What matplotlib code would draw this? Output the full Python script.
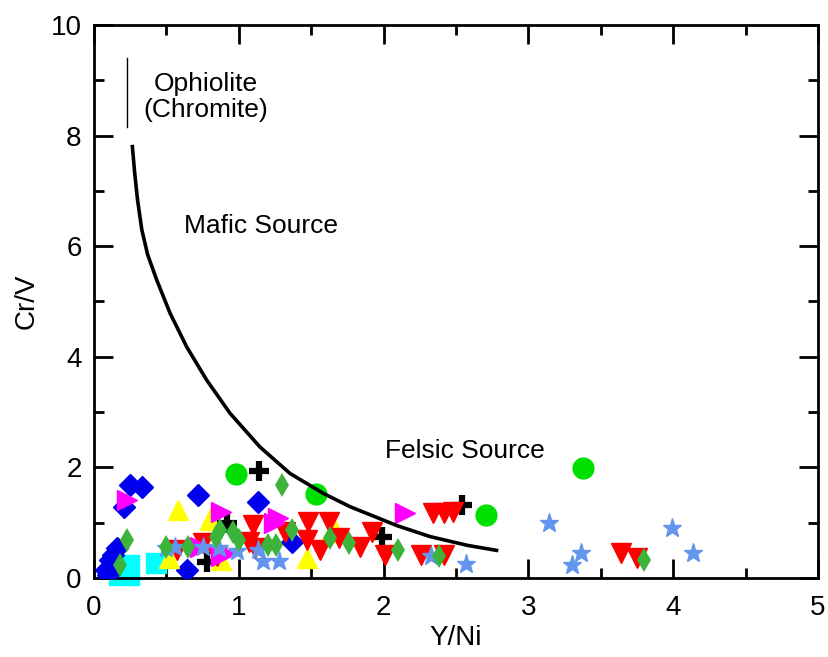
import numpy as np
import matplotlib.pyplot as plt
from matplotlib.ticker import MultipleLocator

plt.rcParams['font.family'] = ['Liberation Sans', 'DejaVu Sans']

# boundary curve
curveX = [0.265, 0.28, 0.30, 0.33, 0.37, 0.433, 0.525, 0.64, 0.778, 0.939, 1.146,
          1.354, 1.584, 1.768, 1.93, 2.09, 2.32, 2.58, 2.78]
curveY = [7.80, 7.35, 6.85, 6.30, 5.85, 5.39, 4.79, 4.18, 3.58, 2.98, 2.37,
          1.89, 1.53, 1.29, 1.12, 0.95, 0.75, 0.59, 0.50]

# ophiolite (chromite) bar
ophX = [0.228, 0.228]
ophY = [8.16, 9.40]

# sample groups
cyanX = [0.21, 0.43]
cyanY = [0.14, 0.27]
cyanSize = [21, 14.5]

blueX = [0.25, 0.33, 0.21, 0.72, 0.64, 0.157, 0.11, 0.08, 0.10, 0.13, 1.13, 1.37]
blueY = [1.68, 1.65, 1.29, 1.50, 0.14, 0.54, 0.33, 0.14, 0.05, 0.42, 1.38, 0.66]

yellowX = [0.58, 0.80, 0.52, 1.47, 0.81, 1.64, 0.88, 1.66]
yellowY = [1.23, 1.05, 0.36, 0.36, 1.11, 0.84, 0.33, 0.90]

plusX = [1.14, 0.78, 0.92, 1.99, 2.54]
plusY = [1.93, 0.29, 1.00, 0.74, 1.32]

redX = [1.10, 1.48, 1.62, 1.47, 1.56, 1.69, 1.32, 1.07, 1.11, 0.85, 0.75, 0.57,
        1.84, 1.92, 2.01, 2.26, 2.42, 2.34, 2.42, 2.48, 3.64, 3.75]
redY = [0.96, 1.02, 1.02, 0.69, 0.51, 0.72, 0.84, 0.66, 0.54, 0.39, 0.63, 0.51,
        0.57, 0.84, 0.42, 0.42, 0.42, 1.17, 1.17, 1.20, 0.45, 0.36]

magentaX = [0.23, 0.88, 1.27, 1.24, 2.15, 0.88, 0.73, 0.90]
magentaY = [1.41, 1.20, 1.08, 1.00, 1.18, 0.39, 0.57, 0.45]

starX = [0.50, 0.56, 0.75, 0.86, 0.99, 1.13, 1.17, 1.28, 2.33, 2.57, 3.14, 3.36, 3.30, 3.99, 4.14]
starY = [0.54, 0.57, 0.57, 0.54, 0.48, 0.51, 0.30, 0.30, 0.39, 0.26, 0.99, 0.45, 0.24, 0.90, 0.45]

greenX = [1.30, 0.23, 0.18, 0.50, 0.65, 0.84, 0.87, 0.96, 1.00, 1.37, 1.20, 1.26,
          1.63, 1.76, 2.10, 2.38, 3.80]
greenY = [1.68, 0.69, 0.24, 0.57, 0.57, 0.75, 0.87, 0.84, 0.69, 0.87, 0.60, 0.60,
          0.72, 0.63, 0.51, 0.39, 0.33]

circleX = [0.98, 1.53, 2.71, 3.38]
circleY = [1.88, 1.52, 1.14, 1.99]

fig = plt.figure(figsize=(8.29, 6.57), dpi=100)
ax = fig.add_axes([0.1134, 0.1202, 0.8733, 0.8418])

for x, y, s in zip(cyanX, cyanY, cyanSize):
    ax.plot(x, y, 's', color='#00ffff', markersize=s, clip_on=False, zorder=2)
ax.plot(blueX, blueY, 'D', color='#0000ee', markersize=11, linestyle='none', zorder=3)
ax.plot(yellowX, yellowY, '^', color='#ffff00', markersize=14, linestyle='none', zorder=3)
ax.plot(plusX, plusY, '+', color='black', markersize=14, markeredgewidth=4.5,
        linestyle='none', zorder=3)
ax.plot(redX, redY, 'v', color='#ff0000', markersize=14, linestyle='none', zorder=4)
ax.plot(magentaX, magentaY, '>', color='#ff00ff', markersize=14, linestyle='none', zorder=4)
ax.plot(starX, starY, '*', color='#6495ed', markersize=14, linestyle='none', zorder=5)
ax.plot(greenX, greenY, 'd', color='#3cb43c', markersize=12.5, markeredgewidth=0,
        linestyle='none', zorder=6)
ax.plot(circleX, circleY, 'o', color='#00e000', markersize=15, linestyle='none', zorder=6)

ax.plot(curveX, curveY, color='black', linewidth=2.6, zorder=7)
ax.plot(ophX, ophY, color='black', linewidth=1.0, zorder=7)

ax.text(0.773, 8.70, 'Ophiolite\n(Chromite)', ha='center', va='center', fontsize=19,
        linespacing=1.1)
ax.text(1.15, 6.37, 'Mafic Source', ha='center', va='center', fontsize=19)
ax.text(2.56, 2.30, 'Felsic Source', ha='center', va='center', fontsize=19)

ax.set_xlim(0, 5)
ax.set_ylim(0, 10)
ax.xaxis.set_major_locator(MultipleLocator(1))
ax.xaxis.set_minor_locator(MultipleLocator(0.5))
ax.yaxis.set_major_locator(MultipleLocator(2))
ax.yaxis.set_minor_locator(MultipleLocator(1))
ax.tick_params(which='both', direction='in', top=True, right=True, width=2,
               labelsize=20)
ax.tick_params(which='major', length=14)
ax.tick_params(which='minor', length=7)
ax.tick_params(axis='x', which='both', pad=12)
ax.tick_params(axis='y', which='both', pad=9)
for sp in ax.spines.values():
    sp.set_linewidth(2)

ax.set_xlabel('Y/Ni', fontsize=20, labelpad=3)
ax.set_ylabel('Cr/V', fontsize=20, labelpad=8)

fig.savefig('out.png', dpi=100)
